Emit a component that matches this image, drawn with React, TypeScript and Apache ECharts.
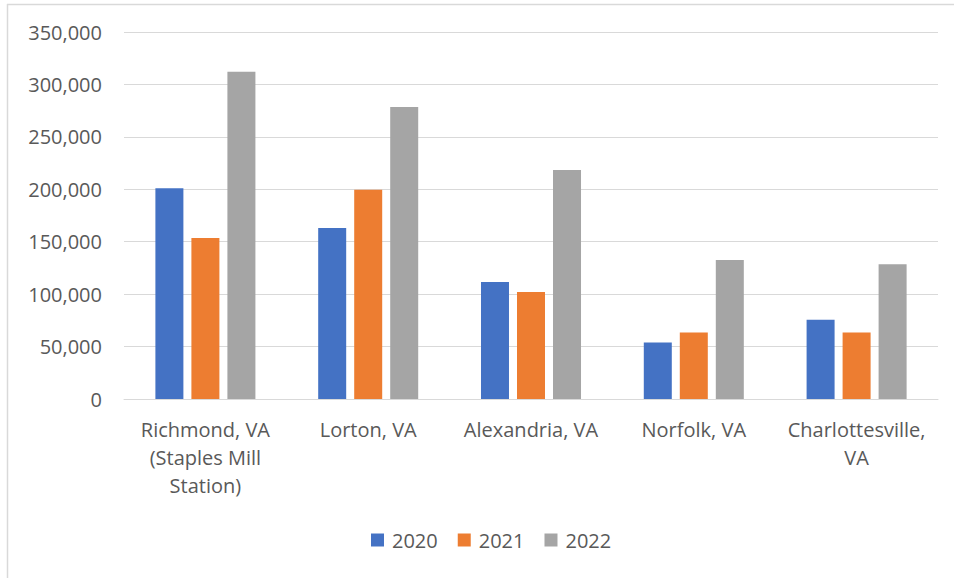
import React, { useEffect, useRef } from "react";
import * as echarts from "echarts";

const categories = [
  "Richmond, VA\n(Staples Mill\nStation)",
  "Lorton, VA",
  "Alexandria, VA",
  "Norfolk, VA",
  "Charlottesville,\nVA",
];
const seriesNames = ["2020", "2021", "2022"];
const values2020 = [201000, 163000, 111500, 54000, 75500];
const values2021 = [153500, 199500, 102000, 63500, 63500];
const values2022 = [312000, 278500, 218500, 132500, 128500];
const colors = ["#4472C4", "#ED7D31", "#A5A5A5"];

const FONT = "'Open Sans', 'Liberation Sans', sans-serif";
const TEXT_COLOR = "#595959";
const GRID_COLOR = "#D9D9D9";

export default function App() {
  const ref = useRef<HTMLDivElement>(null);
  useEffect(() => {
    if (!ref.current) return;
    const chart = echarts.init(ref.current, undefined, { renderer: "svg" });
    const data = [values2020, values2021, values2022];
    chart.setOption({
      animation: false,
      backgroundColor: "#ffffff",
      textStyle: { fontFamily: FONT },
      graphic: [
        {
          type: "line",
          shape: { x1: 7, y1: 4.5, x2: 954, y2: 4.5 },
          style: { stroke: GRID_COLOR, lineWidth: 1.5 },
        },
        {
          type: "line",
          shape: { x1: 7.5, y1: 4, x2: 7.5, y2: 578 },
          style: { stroke: GRID_COLOR, lineWidth: 1.5 },
        },
      ],
      grid: { left: 124, right: 16, top: 32, bottom: 179, containLabel: false },
      legend: {
        data: seriesNames,
        left: 371,
        top: 530,
        padding: 0,
        itemWidth: 13,
        itemHeight: 13,
        itemGap: 20,
        icon: "rect",
        textStyle: {
          fontFamily: FONT,
          fontSize: 20,
          color: TEXT_COLOR,
          padding: [0, 0, 0, 3],
        },
      },
      xAxis: {
        type: "category",
        data: categories,
        axisLine: { lineStyle: { color: GRID_COLOR, width: 1 } },
        axisTick: { show: false },
        axisLabel: {
          fontFamily: FONT,
          fontSize: 20,
          color: TEXT_COLOR,
          lineHeight: 28,
          margin: 16,
          interval: 0,
          align: "center",
        },
      },
      yAxis: {
        type: "value",
        min: 0,
        max: 350000,
        interval: 50000,
        axisLine: { show: false },
        axisTick: { show: false },
        splitLine: { lineStyle: { color: GRID_COLOR, width: 1 } },
        axisLabel: {
          fontFamily: FONT,
          fontSize: 20,
          color: TEXT_COLOR,
          margin: 22,
          formatter: (v: number) => v.toLocaleString("en-US"),
        },
      },
      series: seriesNames.map((name, i) => ({
        name,
        type: "bar",
        data: data[i],
        barWidth: 28,
        barGap: "28.6%",
        itemStyle: { color: colors[i] },
      })),
    });
    return () => chart.dispose();
  }, []);
  return (
    <div
      ref={ref}
      style={{ position: "fixed", left: 0, top: 0, width: 954, height: 578 }}
    />
  );
}
